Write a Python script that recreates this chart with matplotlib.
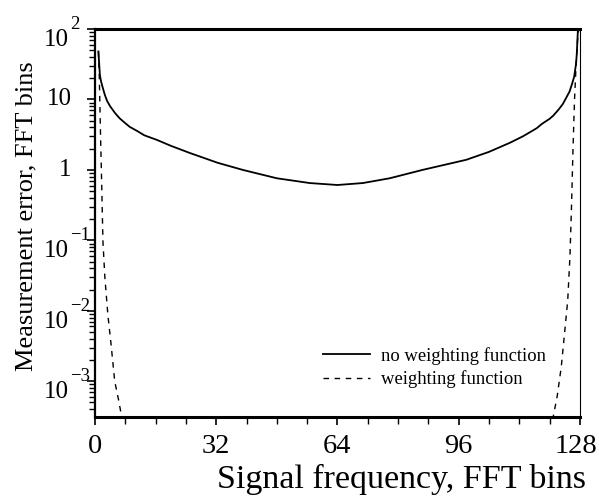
import numpy as np
import matplotlib as mpl
mpl.use('Agg')
import matplotlib.pyplot as plt
import matplotlib.transforms as mtransforms
from matplotlib.ticker import FixedLocator, LogLocator, NullFormatter

plt.rcParams['font.family'] = ['Liberation Serif', 'DejaVu Serif']

# ---------------- data ----------------
# no weighting function (solid)
f_solid = [0.9, 1.1, 1.3, 1.6, 2.0, 2.6, 3.2, 4.0, 5.3, 6.5, 8.0, 9.2, 11.0, 13.0,
           16.3, 20.0, 25.0, 32.4, 39.0, 48.0, 56.7, 64.0, 70.7, 77.8, 86.5,
           98.0, 104.0, 109.5, 113.0, 116.6, 118.0, 120.0, 121.0, 122.5, 123.5,
           124.5, 125.3, 126.0, 126.5, 127.0, 127.2, 127.5]
err_solid = [48, 32, 22, 18, 15, 11.6, 9.5, 8.0, 6.4, 5.4, 4.6, 4.07, 3.6, 3.1,
             2.67, 2.2, 1.74, 1.26, 1.0, 0.76, 0.65, 0.61, 0.65, 0.76, 1.0,
             1.39, 1.8, 2.42, 3.0, 3.9, 4.5, 5.3, 5.9, 7.3, 8.6,
             10.8, 13, 17, 21, 32, 45, 100]

# weighting function (dashed), left and right branches
f_dash_l = [0.9, 1.1, 1.3, 1.5, 1.7, 2.1, 2.6, 3.4, 4.2, 5.2, 6.2, 7.2]
err_dash_l = [48, 25, 8, 2.5, 0.9, 0.095, 0.03, 0.0087, 0.0035, 1e-3, 5.5e-4, 2.8e-4]
f_dash_r = [120.8, 122.0, 123.1, 124.0, 124.8, 125.4, 125.8, 126.2, 126.6, 127.0, 127.4, 127.7]
err_dash_r = [2.8e-4, 6e-4, 1.6e-3, 5e-3, 0.014, 0.06, 0.3, 2, 10, 30, 70, 100]

x_major = [0, 32, 64, 96, 128]
y_major = [1e-3, 1e-2, 1e-1, 1, 10, 100]
y_base = ['10', '10', '10', '1', '10', '10']
y_exp = ['\u22123', '\u22122', '\u22121', '', '', '2']

#==================== plot ====================
fig = plt.figure(figsize=(5.99, 4.97), dpi=100)
ax = fig.add_axes([0.1586, 0.161, 0.8094, 0.7806])

ax.plot(f_solid, err_solid, 'k-', lw=1.3, label='no weighting function')
ax.plot(f_dash_l, err_dash_l, 'k--', lw=1.0, dashes=(4, 4),
        label='weighting function')
ax.plot(f_dash_r, err_dash_r, 'k--', lw=1.0, dashes=(4, 4))

ax.set_yscale('log')
ax.set_xlim(0, 128)
ax.set_ylim(3.1e-4, 100)

ax.xaxis.set_major_locator(FixedLocator(x_major))
ax.xaxis.set_minor_locator(FixedLocator(np.arange(0, 129, 8)))
ax.yaxis.set_major_locator(FixedLocator(y_major))
ax.yaxis.set_major_formatter(NullFormatter())
ax.yaxis.set_minor_locator(LogLocator(base=10, subs=np.arange(2, 10)))
ax.yaxis.set_minor_formatter(NullFormatter())

ax.tick_params(axis='both', which='major', direction='out', length=6, width=1.2,
               colors='k')
ax.tick_params(axis='x', which='major', labelsize=20.5, pad=6)
ax.tick_params(axis='both', which='minor', direction='out', length=4, width=1.0)
ax.tick_params(axis='x', which='minor', length=5)

# pull the last x label ("128") slightly in so it stays on the canvas
last_lab = ax.get_xticklabels()[-1]
last_lab.set_transform(last_lab.get_transform() +
                       mtransforms.ScaledTranslation(-3/72, 0, fig.dpi_scale_trans))

# y tick labels: base right aligned, exponent hanging to the upper right
trans = mtransforms.blended_transform_factory(ax.transAxes, ax.transData)
x_lab = -0.054
for yv, b, e in zip(y_major, y_base, y_exp):
    if e:
        ax.text(x_lab, yv, b, transform=trans, ha='right', va='top', fontsize=18,
                clip_on=False)
        ax.text(x_lab + 0.002, yv, e, transform=trans, ha='left', va='baseline',
                fontsize=13.5, clip_on=False)
    else:
        ax.text(x_lab + 0.006, yv, b, transform=trans, ha='right', va='center',
                fontsize=18, clip_on=False)

ax.spines['top'].set_linewidth(2.2)
ax.spines['bottom'].set_linewidth(2.2)
ax.spines['left'].set_linewidth(1.6)
ax.spines['right'].set_linewidth(0.8)

ax.set_xlabel('Signal frequency, FFT bins', fontsize=24.5)
ax.xaxis.set_label_coords(0.632, -0.12)
ax.set_ylabel('Measurement error, FFT bins', fontsize=19)
ax.yaxis.set_label_coords(-0.118, 0.518)

ax.legend(loc='center left', frameon=False, fontsize=13.4, handlelength=2.53,
          handletextpad=0.6, bbox_to_anchor=(0.47, 0.1276), labelspacing=0.32,
          borderpad=0, borderaxespad=0)

fig.savefig('out.png', dpi=100)
